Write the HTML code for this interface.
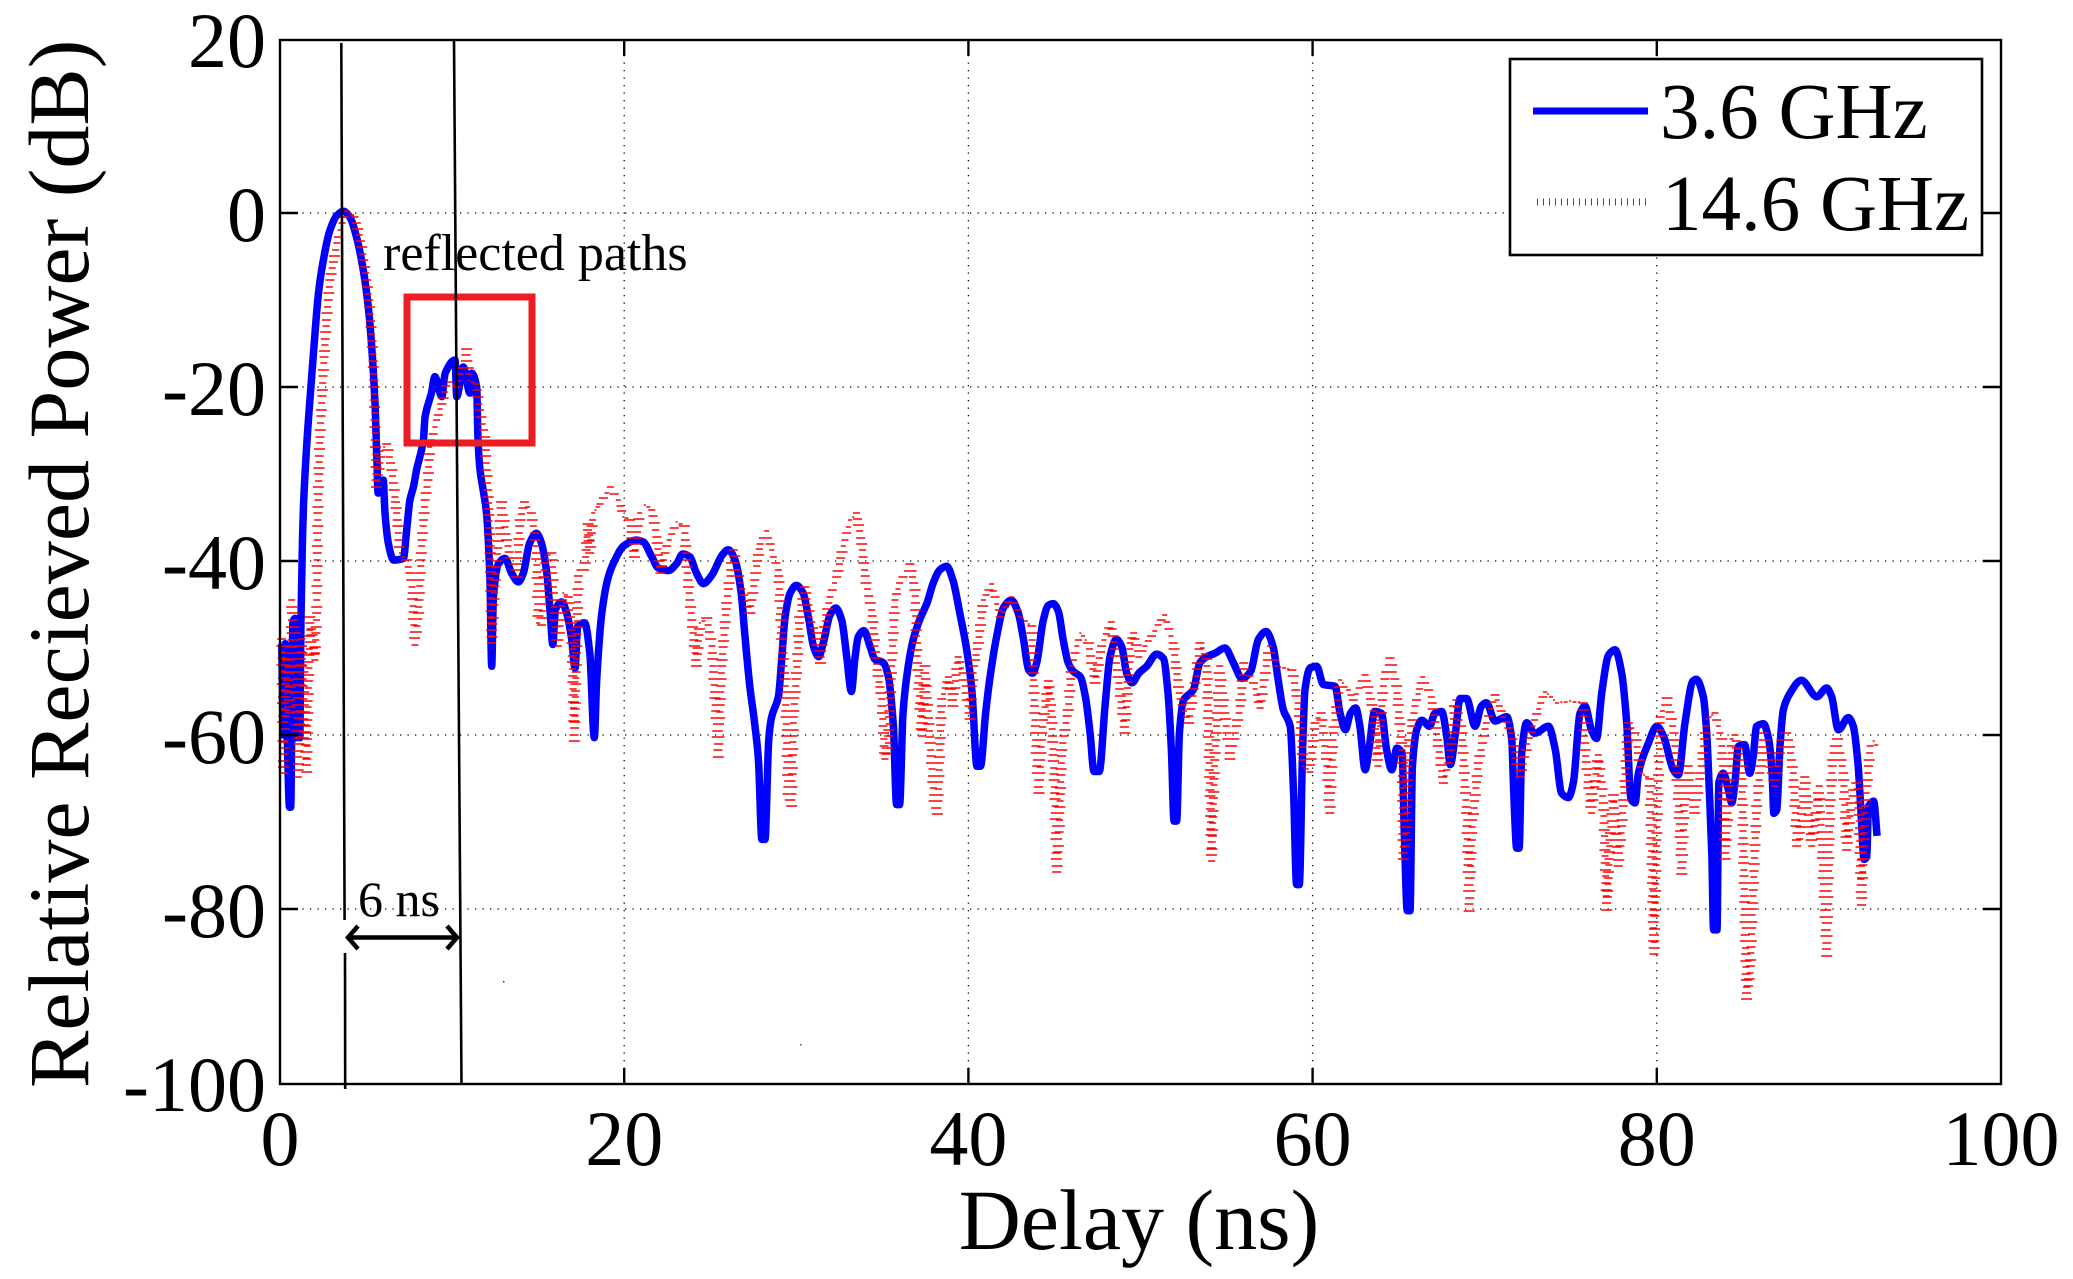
<!DOCTYPE html>
<html>
<head>
<meta charset="utf-8">
<title>Relative Received Power vs Delay</title>
<style>
html,body{margin:0;padding:0;background:#fff;}
svg{display:block;}
text{font-family:"Liberation Serif",serif;fill:#000;}
</style>
</head>
<body>
<svg id="chart" xmlns="http://www.w3.org/2000/svg" width="2073" height="1279" viewBox="0 0 2073 1279">
  <rect x="0" y="0" width="2073" height="1279" fill="#fff"/>
  <g id="grid"></g>
  <path id="blue" fill="none" stroke="#0000ff" stroke-width="7.5" stroke-linejoin="round"/>
  <path id="red" fill="none" stroke="#ff0000" stroke-width="1.5"/>
  <rect x="407" y="297" width="125" height="146" fill="none" stroke="#ed1c24" stroke-width="7"/>
  <g id="axes"></g>
  <line x1="341.3" y1="43" x2="344.6" y2="920" stroke="#000" stroke-width="2.6"/>
  <line x1="345" y1="953" x2="345.2" y2="1089" stroke="#000" stroke-width="2.6"/>
  <line x1="454" y1="40" x2="461.5" y2="1084" stroke="#000" stroke-width="2.6"/>
  <text x="383" y="270" font-size="52">reflected paths</text>
  <text x="358" y="916" font-size="50">6 ns</text>
  <g fill="none" stroke="#000" stroke-width="4.5">
    <line x1="349" y1="937.5" x2="457" y2="937.5"/>
    <polyline points="358,926 348,937.5 358,949"/>
    <polyline points="447,926 457,937.5 447,949"/>
  </g>
  <g>
    <rect x="1510" y="59" width="472" height="196" fill="#fff" stroke="#000" stroke-width="2.6"/>
    <line x1="1533" y1="111" x2="1648" y2="111" stroke="#0000ff" stroke-width="7"/>
    <line x1="1537" y1="202" x2="1647" y2="202" stroke="#ff0000" stroke-width="7" stroke-dasharray="1 5"/>
    <text x="1660" y="138" font-size="79">3.6 GHz</text>
    <text x="1662" y="230" font-size="79">14.6 GHz</text>
  </g>
  <text x="1139" y="1249" font-size="86" text-anchor="middle">Delay (ns)</text>
  <text transform="translate(88 1088) rotate(-90)" x="0" y="0" font-size="86">Relative Recieved Power (dB)</text>
  <rect x="503" y="981" width="1.5" height="1.5" fill="#333"/>
  <rect x="800" y="1044" width="1.5" height="1.5" fill="#555"/>
</svg>
<script>
var xTicks = [0, 20, 40, 60, 80, 100];
var yTicks = [20, 0, -20, -40, -60, -80, -100];

var blueDelay = [0.1,0.2,0.3,0.42,0.55,0.62,0.75,0.87,0.95,1.05,1.15,1.22,1.3,1.38,1.45,1.65,1.94,2.23,2.52,2.9,3.3,3.68,4.07,4.45,4.84,5.13,5.33,5.52,5.62,5.7,6.0,6.1,6.3,6.6,7.17,7.36,7.55,7.75,7.94,8.33,8.43,8.8,9.0,9.4,9.6,10.17,10.27,10.65,11.04,11.14,11.43,11.5,11.62,11.8,12.0,12.2,12.3,12.4,12.7,13.07,13.46,13.85,14.14,14.5,14.9,15.2,15.5,15.7,15.85,16.0,16.37,16.66,16.95,17.14,17.3,17.7,18.0,18.26,18.4,18.7,19.08,19.46,19.95,20.7,21.1,21.6,21.98,22.56,23.05,23.4,23.8,24.2,24.6,25.1,25.7,26.05,26.44,26.8,27.0,27.3,27.6,27.8,28.0,28.18,28.4,28.57,28.96,29.15,29.35,29.64,30.0,30.4,30.7,31.0,31.3,31.57,31.96,32.3,32.64,32.93,33.2,33.4,33.6,33.93,34.28,34.57,35.06,35.35,35.64,35.83,36.0,36.2,36.5,36.8,37.2,37.6,37.96,38.35,38.74,39.1,39.5,39.9,40.2,40.5,40.7,41.0,41.26,41.64,42.03,42.5,42.9,43.2,43.5,43.73,43.97,44.35,44.65,44.93,45.23,45.5,45.8,46.1,46.5,46.8,47.07,47.3,47.6,47.94,48.23,48.6,48.9,49.2,49.5,49.9,50.36,50.94,51.33,51.6,51.8,51.95,52.1,52.26,52.5,53.07,53.45,53.85,54.33,54.9,55.4,55.9,56.4,56.85,57.3,57.7,58.0,58.3,58.7,58.9,59.07,59.23,59.42,59.56,59.85,60.24,60.62,61.3,61.6,61.9,62.2,62.5,62.75,63.05,63.3,63.6,64.0,64.3,64.6,64.9,65.2,65.33,65.5,65.66,65.8,66.05,66.34,66.8,67.1,67.5,67.8,68.0,68.3,68.57,68.95,69.44,69.8,70.1,70.6,71.28,71.57,71.7,71.86,72.0,72.15,72.44,72.9,73.7,74.1,74.47,74.86,75.15,75.54,75.83,76.2,76.5,76.8,77.2,77.57,77.96,78.25,78.5,78.74,78.93,79.5,80.0,80.4,80.96,81.25,81.64,82.1,82.3,82.7,82.9,83.05,83.2,83.3,83.5,83.6,83.87,84.16,84.35,84.54,84.74,85.1,85.4,85.6,85.8,86.2,86.5,86.7,86.8,86.97,87.16,87.35,87.74,88.4,89.3,89.87,90.16,90.55,91.13,91.42,91.7,91.9,92.04,92.2,92.3,92.6,92.8];
var bluePower = [-49.5,-60,-49.5,-60,-68.3,-68.3,-47,-46.6,-60.3,-47.5,-60.3,-46.5,-38,-33,-30,-23.8,-16.2,-9.3,-5.4,-2,-0.3,0.2,-0.5,-2.8,-6.6,-10.8,-15.4,-21.9,-27.6,-32.2,-30.7,-34.5,-38,-39.9,-39.7,-36.4,-33,-31.5,-29.5,-26.1,-23.4,-20.7,-18.8,-21.1,-18.4,-16.9,-21.1,-17.7,-20.7,-18.4,-20,-25.7,-29.5,-31.8,-34.5,-42.2,-52.1,-44.1,-40.3,-39.7,-41.4,-42.4,-41.4,-38,-36.8,-38,-41.4,-46,-49.6,-45.6,-44.7,-46,-49,-52.3,-47.5,-47.1,-50.6,-60.3,-53.7,-46,-41.8,-39.9,-38.3,-37.6,-37.8,-39.5,-40.8,-41.1,-40.3,-39.2,-39.5,-41.4,-42.6,-41.6,-39.3,-38.7,-39.9,-43.7,-48.3,-54.4,-59,-62.8,-72,-72,-60.5,-57.9,-55.6,-51.3,-46.4,-43.7,-42.8,-43.7,-46.4,-49.8,-51,-49.4,-46.2,-45.4,-46.8,-51,-55,-51.3,-48.7,-48,-49.8,-51.3,-51.7,-53.3,-59,-68,-68,-57.5,-52.1,-49,-46.6,-44.8,-42.5,-41,-40.6,-42.2,-46,-50.2,-54.8,-63.6,-63.6,-57.5,-53.3,-48.7,-45.4,-44.5,-46,-49,-52.5,-52.9,-51.7,-46.8,-45.1,-44.9,-45.8,-49,-51.7,-52.7,-53.3,-55.6,-59.8,-64.2,-64.2,-56.7,-51,-49,-49.8,-52.9,-54,-52.9,-52.1,-50.7,-51.2,-55.2,-62,-69.9,-69.9,-59.8,-56,-54.8,-51.7,-51,-50.6,-50,-51.7,-53.5,-52.7,-49,-48.1,-49.8,-53.7,-57.1,-59,-67,-77.2,-77.2,-61.7,-54.8,-52.3,-52.1,-54.2,-54.4,-57.5,-59.4,-57.5,-56.9,-59,-64,-61.3,-57.3,-57.5,-61.7,-64,-61.5,-62.1,-71.3,-80.2,-80.2,-63.6,-59.4,-58.3,-59,-57.5,-57.3,-60.2,-63.4,-59.8,-55.8,-55.8,-59,-56.7,-56.3,-58.4,-57.9,-60.5,-67.4,-73,-73,-62.1,-58.6,-59.8,-59,-61.7,-66.7,-67.2,-65.5,-57.5,-56.7,-59.4,-60.4,-55.2,-50.8,-50.2,-52.9,-58.6,-67.4,-67.8,-64.4,-61,-59,-60.2,-64,-64.6,-58.6,-53.8,-53.6,-55.6,-59.8,-66.3,-74,-82.4,-82.4,-65.5,-64.4,-66.3,-67.8,-65.5,-61.3,-61.1,-64.4,-62.5,-59,-58.7,-60.5,-64.4,-69,-68.6,-61.3,-57.1,-55.2,-53.7,-55.6,-54.6,-55.6,-59.4,-58,-59,-63.6,-70.1,-74.3,-74,-68.2,-67.6,-71.6];

var redDelay = [0.1,0.2,0.4,0.58,0.68,0.87,1.06,1.26,1.55,1.74,2.03,2.13,2.17,2.23,2.32,2.52,2.7,2.9,3.3,3.6,3.87,4.36,4.75,5.04,5.23,5.4,5.52,5.6,5.9,6.2,6.5,6.68,6.78,6.97,7.36,7.65,7.84,8.04,8.23,8.43,8.6,8.7,9.1,9.4,9.7,10.27,10.85,11.0,11.4,11.6,11.9,12.0,12.1,12.2,12.3,12.5,12.88,13.17,13.46,13.75,13.95,14.2,14.6,14.9,15.0,15.2,15.4,15.8,16.0,16.17,16.46,16.75,16.95,17.1,17.24,17.34,17.7,17.9,18.0,18.2,18.6,19.2,19.66,19.95,20.3,20.6,20.9,21.2,21.6,21.9,22.08,22.47,23.05,23.5,23.7,24.2,24.4,24.8,25.1,25.47,25.66,25.95,26.34,26.73,27.3,27.7,27.9,28.28,28.67,28.96,29.15,29.35,29.54,29.73,29.83,30.02,30.2,30.5,30.8,31.1,31.4,31.57,31.96,32.35,32.73,33.12,33.5,33.8,34.05,34.38,34.57,34.7,34.96,35.15,35.35,35.54,35.73,36.0,36.6,36.9,37.0,37.28,37.48,38.06,38.2,38.45,38.84,39.1,39.4,39.7,40.1,40.3,40.58,40.87,41.35,41.84,42.5,43.0,43.68,43.8,43.97,44.1,44.26,44.65,44.84,45.03,45.13,45.27,45.42,45.8,46.0,46.5,46.97,47.36,47.74,48.3,48.7,49.1,49.4,49.6,49.9,50.26,51.4,51.9,52.3,52.8,53.17,53.45,53.85,54.13,54.3,54.6,55.2,55.8,56.0,56.56,56.95,57.25,57.5,57.9,58.8,59.17,59.46,59.85,60.14,60.5,60.8,61.0,61.2,61.6,62.08,62.37,63.05,63.6,63.8,64.1,64.5,64.88,65.2,65.27,65.47,65.56,65.95,66.4,66.9,67.3,67.6,68.0,68.27,68.66,68.95,69.1,69.24,69.63,70.1,70.6,71.08,71.57,72.05,72.5,72.9,73.5,74.2,74.96,75.73,75.83,76.2,76.6,76.9,77.09,77.3,77.47,77.76,78.05,78.35,78.74,79.1,79.6,79.84,80.0,80.2,80.6,81.0,81.25,81.45,81.64,81.83,82.2,82.5,82.9,83.38,83.77,83.96,84.16,84.35,84.54,84.93,85.22,85.42,85.6,85.8,86.2,86.6,86.87,87.26,87.6,87.93,88.13,88.3,88.6,89.0,89.44,89.87,90.06,90.26,90.5,90.84,91.03,91.42,91.7,91.9,92.1,92.4,92.6,92.9];
var redPower = [-49,-64.4,-49.8,-57.5,-44.5,-46.8,-64.8,-49,-64.2,-46.4,-51.4,-46,-38.3,-31.5,-25.7,-18,-12.3,-7.7,-3.5,-1.2,0.2,-0.5,-3.9,-7.7,-11.6,-16.2,-23.8,-31.5,-27.3,-26.5,-29.5,-32.6,-34.5,-39.1,-39.9,-42.2,-49.6,-46,-38.3,-33,-30.7,-26.9,-23.8,-21.9,-19.2,-20,-15.6,-19.2,-19.6,-22.7,-25.7,-29.5,-32.6,-38.3,-49.4,-42.2,-33.2,-37.6,-40.3,-41.8,-35.3,-33.2,-34.5,-38.3,-47.1,-47.3,-39.5,-39.1,-48.3,-49.8,-43.7,-44.1,-47.9,-60.7,-49.8,-41,-41,-35.7,-39.1,-34.5,-33.4,-31.5,-33,-34.9,-35.3,-39.5,-34.5,-33.6,-34.1,-37.2,-41.4,-38.3,-35.5,-36,-42.2,-52.1,-47.1,-46.6,-49.8,-62.5,-52.1,-44.8,-38.7,-42.5,-46,-40.6,-38,-36.6,-39.5,-41,-49,-53.6,-68.2,-68.2,-57.9,-52.9,-46.4,-43,-46.4,-48.3,-51.7,-48.3,-44.1,-41.8,-38.3,-35.3,-34.5,-38,-42.5,-45.6,-49.8,-52.5,-55.9,-62.8,-60.9,-52.1,-44.5,-42.5,-40.4,-43.3,-50.2,-60.1,-52.1,-69.1,-69.1,-55.9,-53.3,-56.7,-51,-52.9,-58.2,-52.1,-49.4,-44.5,-42.7,-46.4,-44.1,-46.4,-47.5,-54.4,-63.6,-66.7,-59.8,-53.8,-57.9,-67.4,-75.8,-71.2,-61.7,-57.1,-52.1,-48.3,-49.4,-54,-49.8,-47,-53.3,-59.8,-49.4,-48.3,-51,-49.8,-46.2,-49.4,-55.9,-58.6,-54,-49.4,-51.3,-74.5,-63.6,-52.1,-62.8,-56.7,-51.7,-54,-56.9,-52.9,-49.8,-52.1,-52.5,-56.3,-63.6,-64.2,-58.6,-57.5,-62.8,-69,-59.8,-53.7,-54.8,-56,-53.1,-57.9,-63.6,-54.4,-51.2,-54.4,-61.7,-74.3,-71.3,-61.3,-56.7,-53.3,-55.6,-61.3,-65.5,-62.5,-56,-59,-69,-80.2,-71.3,-63.2,-58.6,-55.4,-57.9,-59.8,-64.8,-61,-58.3,-55,-56.3,-56.1,-56.3,-61.7,-69,-62.3,-67.8,-80.1,-71.3,-66.9,-75.1,-68.2,-58.6,-59.8,-64.4,-65.1,-85.2,-71.3,-57.9,-55.8,-59.8,-67.4,-76,-65.9,-63.6,-69,-65.1,-58.2,-57.5,-60.5,-74.3,-68.2,-60.5,-60,-63.6,-90.4,-87.3,-77.8,-68.2,-59.8,-64.4,-65.9,-59.8,-59.8,-64.4,-72.8,-72,-64.8,-72.8,-65.9,-85.4,-68.2,-61.3,-60.5,-64.4,-73.2,-65.5,-65.5,-79.5,-68.2,-61.3,-60.7,-61.5];

var SVGNS = 'http://www.w3.org/2000/svg';
var plotLeft = 280, plotRight = 2001, scaleTop = 39, scaleBottom = 1083;
var frameTop = 40, frameBottom = 1084;
function xScale(v) { return plotLeft + (v / 100) * (plotRight - plotLeft); }
function yScale(v) { return scaleTop + ((20 - v) / 120) * (scaleBottom - scaleTop); }
function make(tag, attrs, parent) {
  var el = document.createElementNS(SVGNS, tag);
  for (var k in attrs) { el.setAttribute(k, attrs[k]); }
  parent.appendChild(el);
  return el;
}

var gridGroup = document.getElementById('grid');
var axesGroup = document.getElementById('axes');
var dotWidth = 1.3, dotPattern = '1.3 6.2';

xTicks.forEach(function (t) {
  var x = xScale(t);
  if (t !== 0 && t !== 100) {
    var g = make('line', { x1: x, y1: frameTop, x2: x, y2: frameBottom, stroke: '#000', 'stroke-width': dotWidth, 'stroke-dasharray': dotPattern }, gridGroup);
    
    
    var a = make('line', { x1: x, y1: frameBottom, x2: x, y2: frameBottom - 16, stroke: '#000', 'stroke-width': 2.4 }, axesGroup);
    
    
    var b = make('line', { x1: x, y1: frameTop, x2: x, y2: frameTop + 16, stroke: '#000', 'stroke-width': 2.4 }, axesGroup);
    
    
  }
  var lab = make('text', { x: x, y: 1165, 'font-size': 78, 'text-anchor': 'middle' }, axesGroup);
  
  
  lab.textContent = String(t);
});

yTicks.forEach(function (t) {
  var y = yScale(t);
  if (t !== 20 && t !== -100) {
    var g = make('line', { x1: plotLeft, y1: y, x2: plotRight, y2: y, stroke: '#000', 'stroke-width': dotWidth, 'stroke-dasharray': dotPattern }, gridGroup);
    
    
    var a = make('line', { x1: plotLeft, y1: y, x2: plotLeft + 18, y2: y, stroke: '#000', 'stroke-width': 2.4 }, axesGroup);
    
    
    var b = make('line', { x1: plotRight, y1: y, x2: plotRight - 18, y2: y, stroke: '#000', 'stroke-width': 2.4 }, axesGroup);
    
    
  }
  var lab = make('text', { x: 266, y: y + 28, 'font-size': 78, 'text-anchor': 'end' }, axesGroup);
  
  
  lab.textContent = String(t);
});

var frame = make('rect', { x: plotLeft, y: frameTop, width: plotRight - plotLeft, height: frameBottom - frameTop, fill: 'none', stroke: '#000', 'stroke-width': 2.4 }, axesGroup);



/* Smooth the 3.6 GHz trace with a monotone cubic through the read values,
   so peaks stay rounded and the curve never overshoots a null. */
function monotonePath(xs, ys) {
  var n = xs.length, slopes = [], tangents = [];
  for (var i = 0; i < n - 1; i++) {
    slopes.push((ys[i + 1] - ys[i]) / (xs[i + 1] - xs[i]));
  }
  tangents.push(slopes[0]);
  for (var m = 1; m < n - 1; m++) {
    if (slopes[m - 1] * slopes[m] <= 0) {
      tangents.push(0);
    } else {
      tangents.push(2 * slopes[m - 1] * slopes[m] / (slopes[m - 1] + slopes[m]));
    }
  }
  tangents.push(slopes[n - 2]);
  var d = 'M' + xs[0].toFixed(1) + ' ' + ys[0].toFixed(1);
  for (var s = 0; s < n - 1; s++) {
    var h = (xs[s + 1] - xs[s]) / 3;
    d += 'C' + (xs[s] + h).toFixed(1) + ' ' + (ys[s] + tangents[s] * h).toFixed(1) + ' ' +
      (xs[s + 1] - h).toFixed(1) + ' ' + (ys[s + 1] - tangents[s + 1] * h).toFixed(1) + ' ' +
      xs[s + 1].toFixed(1) + ' ' + ys[s + 1].toFixed(1);
  }
  return d;
}
document.getElementById('blue').setAttribute('d', monotonePath(blueDelay.map(xScale), bluePower.map(yScale)));

/* The 14.6 GHz trace is a fine dotted line: it shows as short horizontal
   dashes on steep runs and small dots on shallow runs. */
var redD = '';
var stepCount = 0;
for (var j = 0; j + 1 < redDelay.length; j++) {
  var x0 = xScale(redDelay[j]), y0 = yScale(redPower[j]);
  var x1 = xScale(redDelay[j + 1]), y1 = yScale(redPower[j + 1]);
  var dx = x1 - x0, dy = y1 - y0;
  var len = Math.sqrt(dx * dx + dy * dy);
  var slope = Math.abs(dy) / Math.max(Math.abs(dx), 0.2);
  var spacing = slope > 1.5 ? 6.5 : 4;
  var count = Math.max(1, Math.round(len / spacing));
  for (var q = 0; q < count; q++) {
    var f = q / count;
    var px = x0 + dx * f, py = y0 + dy * f;
    stepCount++;
    var halfWidth = slope > 4 ? 3.5 + (stepCount % 3) : (slope > 1.5 ? 2.5 + (stepCount % 3) : 1 + (stepCount % 2));
    redD += 'M' + (px - halfWidth).toFixed(1) + ' ' + Math.round(py) + 'h' + (2 * halfWidth).toFixed(1);
  }
}
document.getElementById('red').setAttribute('d', redD);
</script>
</body>
</html>
